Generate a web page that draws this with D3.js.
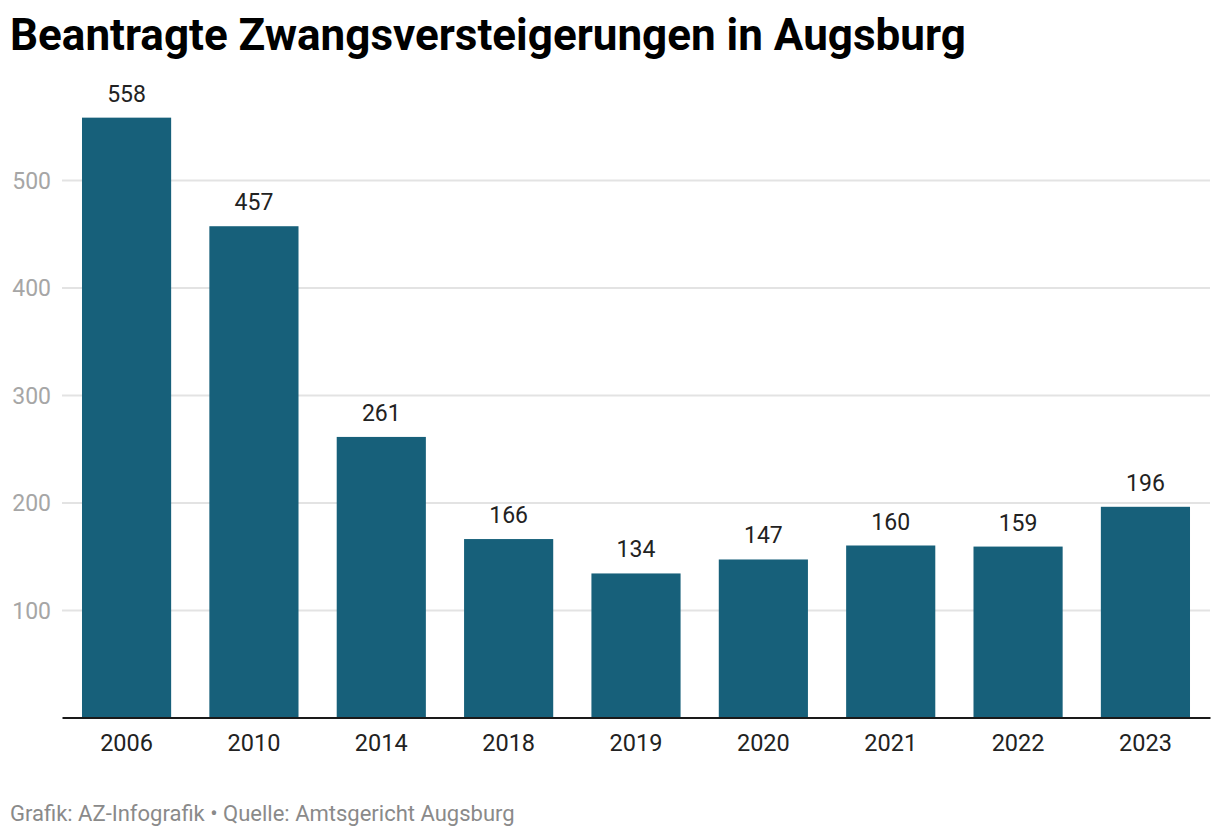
<!DOCTYPE html>
<html><head><meta charset="utf-8">
<script src="https://cdn.jsdelivr.net/npm/d3@7"></script>
<style>body{margin:0;background:#fff;font-family:Roboto,sans-serif}</style>
</head><body>
<svg id="c" width="1220" height="838"></svg>
<script>
const years = ["2006","2010","2014","2018","2019","2020","2021","2022","2023"];
const values = [558,457,261,166,134,147,160,159,196];
const yTicks = [100,200,300,400,500];
const title = "Beantragte Zwangsversteigerungen in Augsburg";
const source = "Grafik: AZ-Infografik • Quelle: Amtsgericht Augsburg";

(function(){
const svg = d3.select("#c");
const mLeft = 62, mRight = 1210, mTop = 80, mBottom = 717.5;
const x = d3.scaleBand().domain(years).range([mLeft, mRight]).paddingInner(0.3).paddingOuter(0.157);
// 100 units = 107.5px
const y = d3.scaleLinear().domain([0, (mBottom - mTop) / 1.075]).range([mBottom, mTop]);

svg.append("text").attr("x", 10).attr("y", 50).attr("font-size", 44).attr("font-weight", 700)
  .attr("fill", "#000").text(title);

const yAxis = d3.axisLeft(y).tickValues(yTicks).tickSize(-(mRight - mLeft)).tickFormat(d3.format("d"));
const gy = svg.append("g").attr("transform", `translate(${mLeft},0)`).call(yAxis);
gy.select(".domain").remove();
gy.selectAll(".tick line").attr("stroke", "#e3e3e3").attr("stroke-width", 2);
gy.selectAll(".tick text").attr("x", -11).attr("dy", "0.35em").attr("fill", "#a6a6a6")
  .attr("font-size", 23).attr("font-family", "Roboto");

svg.append("g").selectAll("rect").data(values).join("rect")
  .attr("x", (d, i) => x(years[i])).attr("width", x.bandwidth())
  .attr("y", d => y(d)).attr("height", d => mBottom - y(d)).attr("fill", "#17607a");

svg.append("g").selectAll("text").data(values).join("text")
  .attr("x", (d, i) => x(years[i]) + x.bandwidth() / 2).attr("y", d => y(d) - 16)
  .attr("text-anchor", "middle").attr("font-size", 23).attr("fill", "#222").text(d => d);

const xAxis = d3.axisBottom(x).tickSize(0);
const gx = svg.append("g").attr("transform", `translate(0,${mBottom})`).call(xAxis);
gx.select(".domain").attr("stroke", "#1a1a1a").attr("stroke-width", 2);
gx.selectAll(".tick text").attr("y", 0).attr("dy", 0).attr("transform", "translate(0,33)")
  .attr("fill", "#222").attr("font-size", 23.5).attr("font-family", "Roboto");

svg.append("text").attr("x", 10).attr("y", 821).attr("font-size", 22).attr("fill", "#8a8a8a").text(source);
})();
</script>
</body></html>
